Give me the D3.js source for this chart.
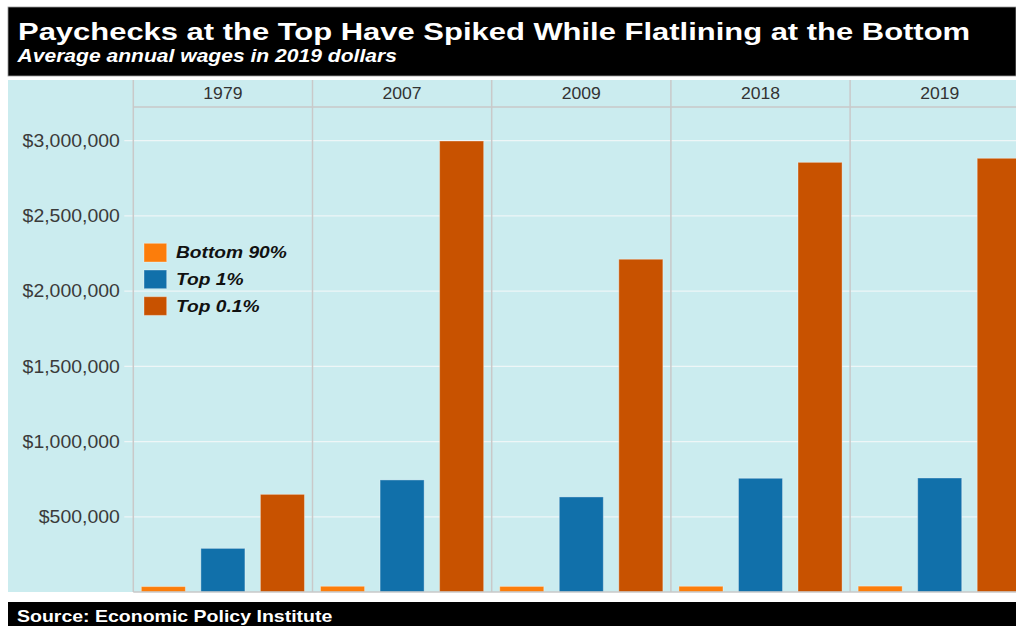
<!DOCTYPE html>
<html>
<head>
<meta charset="utf-8">
<script src="https://cdn.jsdelivr.net/npm/d3@7/dist/d3.min.js"></script>
<style>
  html, body { margin: 0; padding: 0; background: #ffffff; }
  svg { display: block; }
  text { font-family: "Liberation Sans", Arial, Helvetica, sans-serif; }
</style>
</head>
<body>
<svg id="chart" width="1016" height="626"></svg>
<script>
// Average annual wages, 2019 dollars
const years = ["1979", "2007", "2009", "2018", "2019"];
const seriesNames = ["Bottom 90%", "Top 1%", "Top 0.1%"];
const bottom90 = [36000, 38000, 37000, 38000, 39000];
const top1 = [290000, 745000, 632000, 756000, 758000];
const top01 = [649000, 2998000, 2212000, 2856000, 2883000];
const yTicks = [500000, 1000000, 1500000, 2000000, 2500000, 3000000];
const seriesColors = ["#fc7d0b", "#1170aa", "#c85200"];

const titleText = "Paychecks at the Top Have Spiked While Flatlining at the Bottom";
const subtitleText = "Average annual wages in 2019 dollars";
const sourceText = "Source: Economic Policy Institute";

const seriesValues = [bottom90, top1, top01];
const rows = years.map((yr, i) => ({
  year: yr,
  values: seriesNames.map((s, k) => ({ series: s, value: seriesValues[k][i] }))
}));

const W = 1016, H = 626;
const svg = d3.select("#chart");

// layout
const bgLeft = 8;
const panelTop = 80, stripBottom = 107, panelBottom = 592;
const facetLeft = 133.3, facetWidth = 179.2;

// scales
const fx = d3.scaleBand().domain(years)
  .range([facetLeft, facetLeft + facetWidth * years.length]).padding(0);
const xInner = d3.scaleBand().domain(seriesNames)
  .range([0, facetWidth]).paddingInner(0.26).paddingOuter(0.135);
const y = d3.scaleLinear().domain([0, 3224000]).range([panelBottom, stripBottom]);
const color = d3.scaleOrdinal().domain(seriesNames).range(seriesColors);

// title band
svg.append("rect").attr("x", bgLeft).attr("y", 7).attr("width", W - bgLeft).attr("height", 69)
  .attr("fill", "#000").attr("stroke", "#9a9a9a").attr("stroke-width", 0.8);
svg.append("text").attr("transform", "translate(18,39.5) scale(1.29,1)")
  .attr("fill", "#fff").attr("font-size", 24).attr("font-weight", "bold")
  .text(titleText);
svg.append("text").attr("transform", "translate(17.5,62) scale(1.205,1)")
  .attr("fill", "#fff").attr("font-size", 17.5).attr("font-weight", "bold").attr("font-style", "italic")
  .text(subtitleText);

// chart background
svg.append("rect").attr("x", bgLeft).attr("y", panelTop).attr("width", W - bgLeft)
  .attr("height", panelBottom - panelTop).attr("fill", "#cbecef");

// horizontal gridlines across facets, with short ticks on the axis
const grid = svg.append("g");
grid.selectAll("line").data(yTicks).join("line")
  .attr("x1", facetLeft - 9).attr("x2", W)
  .attr("y1", d => y(d)).attr("y2", d => y(d))
  .attr("stroke", "#eef6f7").attr("stroke-width", 1.3);

// y axis labels
const labelStretch = 1.08;
const yAxis = d3.axisLeft(y).tickValues(yTicks).tickSize(0).tickPadding(13.5)
  .tickFormat(d => "$" + d3.format(",")(d));
const yg = svg.append("g").attr("transform", `translate(${facetLeft},0)`).call(yAxis);
yg.select(".domain").remove();
yg.selectAll("text").attr("fill", "#3a3a3a").attr("font-size", 18)
  .attr("font-family", "'Liberation Sans', Arial, sans-serif")
  .attr("x", -13.5 / labelStretch)
  .attr("transform", `scale(${labelStretch},1)`);

// bars
const facets = svg.append("g").selectAll("g.facet").data(rows).join("g")
  .attr("class", "facet").attr("transform", d => `translate(${fx(d.year)},0)`);

facets.selectAll("rect.bar").data(d => d.values).join("rect")
  .attr("class", "bar")
  .attr("x", d => xInner(d.series))
  .attr("width", xInner.bandwidth())
  .attr("y", d => y(d.value))
  .attr("height", d => y(0) - y(d.value))
  .attr("fill", d => color(d.series))
  .attr("stroke", "rgba(255,255,255,0.35)")
  .attr("stroke-width", 1);

// facet strip labels
facets.append("text")
  .attr("transform", `translate(${facetWidth / 2},99) scale(1.1,1)`)
  .attr("text-anchor", "middle").attr("fill", "#333").attr("font-size", 16)
  .text(d => d.year);

// facet borders
const borders = svg.append("g").attr("stroke", "#c9c9c9").attr("stroke-width", 1.5);
borders.selectAll("line.v").data(years).join("line").attr("class", "v")
  .attr("x1", d => fx(d)).attr("x2", d => fx(d))
  .attr("y1", panelTop).attr("y2", panelBottom);
borders.append("line").attr("x1", facetLeft).attr("x2", W)
  .attr("y1", stripBottom).attr("y2", stripBottom);
borders.append("line").attr("x1", facetLeft).attr("x2", W)
  .attr("y1", panelBottom).attr("y2", panelBottom);

// legend
const legend = svg.append("g").attr("transform", "translate(144,243.3)");
const items = legend.selectAll("g").data(seriesNames).join("g")
  .attr("transform", (d, i) => `translate(0,${i * 26.7})`);
items.append("rect").attr("width", 22.7).attr("height", 18.7)
  .attr("fill", d => color(d)).attr("stroke", "rgba(255,255,255,0.35)").attr("stroke-width", 1);
items.append("text").attr("transform", "translate(32,15) scale(1.2,1)")
  .attr("fill", "#111").attr("font-size", 16).attr("font-weight", "bold").attr("font-style", "italic")
  .text(d => d);

// source band
svg.append("rect").attr("x", bgLeft).attr("y", 602).attr("width", W - bgLeft).attr("height", H - 602)
  .attr("fill", "#000");
svg.append("text").attr("transform", "translate(17,622) scale(1.22,1)")
  .attr("fill", "#fff").attr("font-size", 16).attr("font-weight", "bold")
  .text(sourceText);
</script>
</body>
</html>
